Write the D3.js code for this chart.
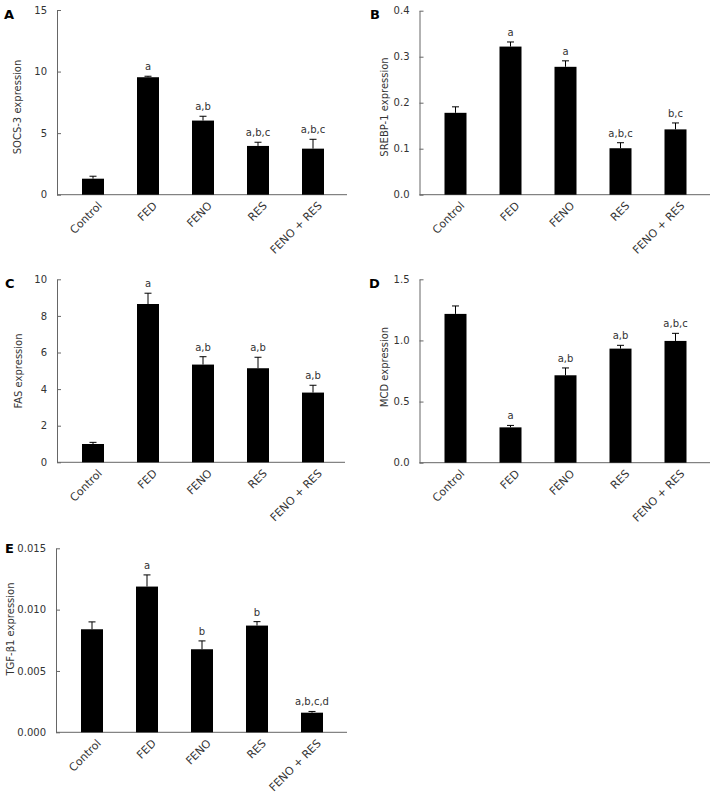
<!DOCTYPE html>
<head>
    <meta charset="utf-8">
    <script src="https://cdnjs.cloudflare.com/ajax/libs/d3/7.9.0/d3.js"></script>
    <style>
        body { margin: 0; background: #fff; }
        text { font-family: "DejaVu Sans", sans-serif; }
    </style>
</head>

<body>
    <div id="chart"></div>
</body>

<script>

// groups on the x axis, shared by every panel

const groups = ["Control", "FED", "FENO", "RES", "FENO + RES"]

// A - SOCS-3
const socs3Mean = [1.3, 9.54, 6.02, 3.96, 3.74]
const socs3Err = [0.2, 0.08, 0.35, 0.3, 0.76]
const socs3Sig = ["", "a", "a,b", "a,b,c", "a,b,c"]
const socs3Ticks = [0, 5, 10, 15]

// B - SREBP-1
const srebpMean = [0.178, 0.322, 0.278, 0.101, 0.142]
const srebpErr = [0.013, 0.010, 0.013, 0.012, 0.014]
const srebpSig = ["", "a", "a", "a,b,c", "b,c"]
const srebpTicks = [0, 0.1, 0.2, 0.3, 0.4]

// C - FAS
const fasMean = [1.0, 8.65, 5.34, 5.14, 3.81]
const fasErr = [0.09, 0.59, 0.43, 0.6, 0.4]
const fasSig = ["", "a", "a,b", "a,b", "a,b"]
const fasTicks = [0, 2, 4, 6, 8, 10]

// D - MCD
const mcdMean = [1.217, 0.289, 0.715, 0.933, 0.996]
const mcdErr = [0.065, 0.016, 0.06, 0.027, 0.062]
const mcdSig = ["", "a", "a,b", "a,b", "a,b,c"]
const mcdTicks = [0, 0.5, 1.0, 1.5]

// E - TGF-beta1
const tgfMean = [0.0084, 0.01188, 0.00677, 0.0087, 0.0016]
const tgfErr = [0.0006, 0.00095, 0.00068, 0.00032, 0.0001]
const tgfSig = ["", "a", "b", "b", "a,b,c,d"]
const tgfTicks = [0, 0.005, 0.010, 0.015]

const svg = d3.select("#chart")
    .append("svg")
    .attr("width", 718)
    .attr("height", 793)

svg.append("rect").attr("width", 718).attr("height", 793).attr("fill", "#fff")

// panel layout (pixel frame of each plot)

const panels = [
    {letter: "A", label: "SOCS-3 expression", mean: socs3Mean, err: socs3Err, sig: socs3Sig, ticks: socs3Ticks, fmt: d3.format("d"),
     left: 57, right: 347, top: 10, bottom: 194.7, letterX: 4, letterY: 18.5, labelX: 17, labelY: 107},
    {letter: "B", label: "SREBP-1 expression", mean: srebpMean, err: srebpErr, sig: srebpSig, ticks: srebpTicks, fmt: d3.format(".1f"),
     left: 419.5, right: 710, top: 10.7, bottom: 194.7, letterX: 370, letterY: 18.5, labelX: 384, labelY: 107},
    {letter: "C", label: "FAS expression", mean: fasMean, err: fasErr, sig: fasSig, ticks: fasTicks, fmt: d3.format("d"),
     left: 57, right: 345, top: 279.3, bottom: 462.3, letterX: 5, letterY: 287.5, labelX: 18, labelY: 371},
    {letter: "D", label: "MCD expression", mean: mcdMean, err: mcdErr, sig: mcdSig, ticks: mcdTicks, fmt: d3.format(".1f"),
     left: 419.5, right: 710, top: 279.3, bottom: 462.7, letterX: 369, letterY: 287.5, labelX: 384, labelY: 367},
    {letter: "E", label: "TGF-β1 expression", mean: tgfMean, err: tgfErr, sig: tgfSig, ticks: tgfTicks, fmt: d3.format(".3f"),
     left: 56, right: 347, top: 548.3, bottom: 732.3, letterX: 5, letterY: 552.5, labelX: 10, labelY: 629}
]

const axisColor = "#666"
const textColor = "#333"

panels.forEach((p) => {

    const g = svg.append("g")

    const y = d3.scaleLinear()
        .domain([0, d3.max(p.ticks)])
        .range([p.bottom, p.top])

    const x = d3.scaleBand()
        .domain(groups)
        .range([p.left + 8.5, p.left + 283.5])
        .paddingInner(0.6)
        .paddingOuter(0.3)

    // Y axis, ticks point inward

    const yAxis = g.append("g")
        .attr("transform", `translate(${p.left},0)`)
        .call(d3.axisLeft(y).tickValues(p.ticks).tickFormat(p.fmt).tickSize(-4).tickSizeOuter(0).tickPadding(10))

    yAxis.select(".domain").attr("stroke", axisColor)
    yAxis.selectAll(".tick line").attr("stroke", axisColor)
    yAxis.selectAll(".tick text")
        .attr("fill", textColor)
        .style("font-size", "10px")

    // baseline

    g.append("line")
        .attr("x1", p.left).attr("x2", p.right)
        .attr("y1", y(0)).attr("y2", y(0))
        .attr("stroke", axisColor)

    // rotated group labels

    const xAxis = g.append("g")
        .attr("transform", `translate(0,${y(0)})`)
        .call(d3.axisBottom(x).tickSize(0).tickPadding(0))

    xAxis.select(".domain").remove()
    xAxis.selectAll(".tick text")
        .attr("fill", textColor)
        .style("font-size", "11px")
        .attr("text-anchor", "end")
        .attr("dy", "0.35em")
        .attr("transform", "translate(7,9) rotate(-45)")
        .attr("y", 0)

    const rows = groups.map((name, i) => ({name: name, mean: p.mean[i], err: p.err[i], sig: p.sig[i]}))

    // bars

    g.selectAll(".bar")
        .data(rows)
        .join("rect")
        .attr("x", d => x(d.name))
        .attr("width", x.bandwidth())
        .attr("y", d => y(d.mean))
        .attr("height", d => y(0) - y(d.mean))
        .attr("fill", "#000")

    // error bars (upper only)

    g.selectAll(".err")
        .data(rows)
        .join("line")
        .attr("x1", d => x(d.name) + x.bandwidth() / 2)
        .attr("x2", d => x(d.name) + x.bandwidth() / 2)
        .attr("y1", d => y(d.mean))
        .attr("y2", d => y(d.mean + d.err))
        .attr("stroke", "#000")

    g.selectAll(".cap")
        .data(rows)
        .join("line")
        .attr("x1", d => x(d.name) + x.bandwidth() / 2 - 3.5)
        .attr("x2", d => x(d.name) + x.bandwidth() / 2 + 3.5)
        .attr("y1", d => y(d.mean + d.err))
        .attr("y2", d => y(d.mean + d.err))
        .attr("stroke", "#000")

    // significance letters

    g.selectAll(".sig")
        .data(rows)
        .join("text")
        .attr("x", d => x(d.name) + x.bandwidth() / 2)
        .attr("y", d => y(d.mean + d.err) - 6)
        .attr("text-anchor", "middle")
        .attr("fill", textColor)
        .style("font-size", "10px")
        .text(d => d.sig)

    // y label

    g.append("text")
        .attr("transform", `translate(${p.labelX},${p.labelY}) rotate(-90)`)
        .attr("text-anchor", "middle")
        .attr("dy", "0.35em")
        .attr("fill", textColor)
        .style("font-size", "10px")
        .text(p.label)

    // panel letter

    g.append("text")
        .attr("x", p.letterX)
        .attr("y", p.letterY)
        .attr("fill", "#000")
        .style("font-size", "13px")
        .style("font-weight", "bold")
        .text(p.letter)
})

</script>
